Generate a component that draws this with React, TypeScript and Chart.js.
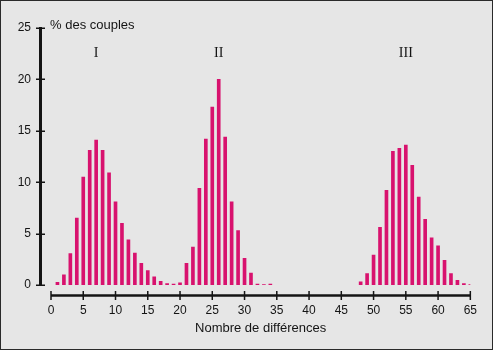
import React, { useEffect, useRef } from "react";
import { Chart, registerables } from "chart.js";

Chart.register(...registerables);

// Number of differences (x) and % of couples (y); null = no bar drawn
const differences = [
  1, 2, 3, 4, 5, 6, 7, 8, 9, 10,
  11, 12, 13, 14, 15, 16, 17, 18, 19, 20,
  21, 22, 23, 24, 25, 26, 27, 28, 29, 30,
  31, 32, 33, 34, 35, 36, 37, 38, 39, 40,
  41, 42, 43, 44, 45, 46, 47, 48, 49, 50,
  51, 52, 53, 54, 55, 56, 57, 58, 59, 60,
  61, 62, 63, 64, 65,
];
const percentCouples: (number | null)[] = [
  0.25, 1.0, 3.05, 6.5, 10.5, 13.1, 14.1, 13.1, 10.9, 8.1,
  6.0, 4.4, 3.1, 2.1, 1.4, 0.8, 0.35, 0.15, 0.1, 0.2,
  2.1, 3.7, 9.4, 14.2, 17.3, 20.0, 14.4, 8.1, 5.3, 2.6,
  1.15, 0.1, 0.05, 0.1, null, null, null, null, null, null,
  null, null, null, null, null, null, null, 0.3, 1.1, 2.9,
  5.6, 9.2, 13.0, 13.3, 13.6, 11.65, 8.55, 6.4, 4.6, 3.8,
  2.4, 1.1, 0.45, 0.15, 0.05,
];
const xTicks = [0, 5, 10, 15, 20, 25, 30, 35, 40, 45, 50, 55, 60, 65];
const yTicks = [0, 5, 10, 15, 20, 25];
const groupLabels = ["I", "II", "III"];
const groupX = [7, 26, 55];
const groupY = 22.5;
const yAxisTitle = "% des couples";
const xAxisTitle = "Nombre de différences";

const BAR_COLOR = "#D8126E";
const INK = "#141414";
const SANS = "'Liberation Sans', Arial, sans-serif";
const SERIF = "'Liberation Serif', 'Times New Roman', serif";

const detachedAxes = {
  id: "detachedAxes",
  afterDatasetsDraw(chart: any) {
    const { ctx, chartArea } = chart;
    const xs = chart.scales.x;
    const ys = chart.scales.y;
    ctx.save();
    ctx.strokeStyle = INK;
    ctx.fillStyle = INK;

    // Y axis (detached to the left)
    const ax = chartArea.left - 10.5;
    const yTop = ys.getPixelForValue(yTicks[yTicks.length - 1]);
    const yBot = ys.getPixelForValue(yTicks[0]);
    ctx.lineWidth = 3;
    ctx.beginPath();
    ctx.moveTo(ax, yTop - 1);
    ctx.lineTo(ax, yBot + 1);
    ctx.stroke();
    ctx.lineWidth = 1.5;
    for (const v of yTicks) {
      const py = Math.round(ys.getPixelForValue(v)) + 0.25;
      ctx.beginPath();
      ctx.moveTo(ax - 4.5, py);
      ctx.lineTo(ax + 4.5, py);
      ctx.stroke();
    }

    // X axis (detached below)
    const ay = chartArea.bottom + 10.5;
    const xL = xs.getPixelForValue(xTicks[0]);
    const xR = xs.getPixelForValue(xTicks[xTicks.length - 1]);
    ctx.lineWidth = 2.5;
    ctx.beginPath();
    ctx.moveTo(xL, ay);
    ctx.lineTo(xR, ay);
    ctx.stroke();
    ctx.lineWidth = 1.5;
    for (const v of xTicks) {
      const px = xs.getPixelForValue(v);
      ctx.beginPath();
      ctx.moveTo(px, ay - 4.5);
      ctx.lineTo(px, ay + 4.5);
      ctx.stroke();
    }

    // Y axis title at top
    ctx.font = `13px ${SANS}`;
    ctx.textAlign = "left";
    ctx.textBaseline = "alphabetic";
    ctx.fillText(yAxisTitle, xs.getPixelForValue(0) - 1, yTop + 0.5);

    // Group labels
    ctx.font = `14px ${SERIF}`;
    ctx.textAlign = "center";
    ctx.textBaseline = "middle";
    groupLabels.forEach((t, i) => {
      ctx.fillText(t, xs.getPixelForValue(groupX[i]), ys.getPixelForValue(groupY));
    });
    ctx.restore();
  },
};

export default function App() {
  const canvasRef = useRef<HTMLCanvasElement | null>(null);

  useEffect(() => {
    const canvas = canvasRef.current;
    if (!canvas) return;
    const chart = new Chart(canvas, {
      type: "bar",
      data: {
        datasets: [
          {
            data: differences.map((d, i) => ({ x: d, y: percentCouples[i] })),
            backgroundColor: BAR_COLOR,
            borderWidth: 0,
            barThickness: 3,
          },
        ],
      },
      options: {
        responsive: false,
        animation: false,
        devicePixelRatio: 1,
        layout: { padding: { left: 0, top: 28, right: 23, bottom: 0 } },
        plugins: {
          legend: { display: false },
          tooltip: { enabled: false },
        },
        scales: {
          x: {
            type: "linear",
            min: 0,
            max: 65,
            offset: false,
            grid: { display: false, drawTicks: false, offset: false },
            border: { display: false },
            afterBuildTicks: (scale: any) => {
              scale.ticks = xTicks.map((v) => ({ value: v }));
            },
            ticks: {
              color: INK,
              padding: 18,
              maxRotation: 0,
              autoSkip: false,
              font: { family: SANS, size: 12 },
            },
            title: {
              display: true,
              text: xAxisTitle,
              color: INK,
              font: { family: SANS, size: 13 },
              padding: { top: 0, bottom: 15 },
            },
            afterFit: (scale: any) => {
              scale.height = 66;
            },
          },
          y: {
            min: 0,
            max: 25,
            grid: { display: false, drawTicks: false },
            border: { display: false },
            afterBuildTicks: (scale: any) => {
              scale.ticks = yTicks.map((v) => ({ value: v }));
            },
            ticks: {
              color: INK,
              padding: 20,
              font: { family: SANS, size: 12 },
            },
            afterFit: (scale: any) => {
              scale.width = 51;
            },
          },
        },
      },
      plugins: [detachedAxes],
    });
    return () => chart.destroy();
  }, []);

  return (
    <div style={{ position: "absolute", left: 0, top: 0, width: 495, height: 351, background: "#ffffff" }}>
      <div
        style={{
          position: "absolute",
          left: 0,
          top: 0,
          width: 493,
          height: 350,
          boxSizing: "border-box",
          border: "1px solid #2a2a2a",
          background: "#E6E6E6",
        }}
      />
      <canvas
        ref={canvasRef}
        width={495}
        height={351}
        style={{ position: "absolute", left: 0, top: 0, width: 495, height: 351 }}
      />
    </div>
  );
}
